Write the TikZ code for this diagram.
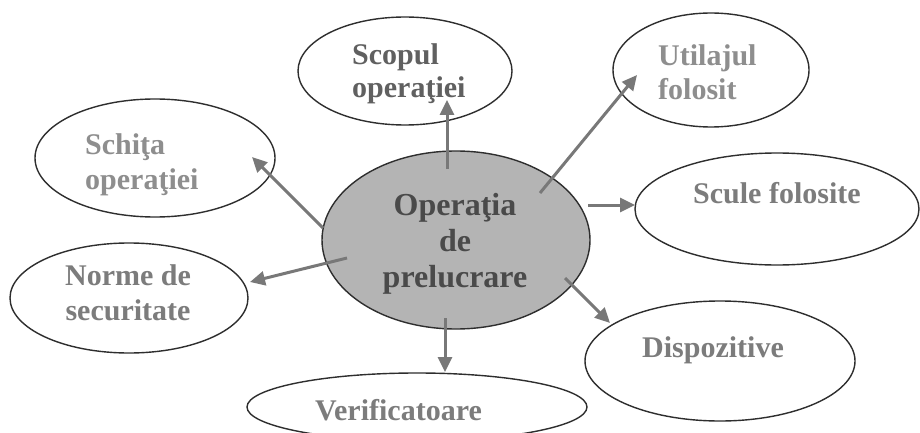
\documentclass[tikz,border=0pt]{standalone}
\usepackage{fontspec}
\setmainfont{Liberation Serif}
\usetikzlibrary{shapes.geometric,arrows.meta}
\definecolor{rim}{HTML}{2E2E2E}
\definecolor{arr}{HTML}{787878}
\definecolor{hubfill}{HTML}{B4B4B4}
\definecolor{txtdark}{HTML}{4A4A4A}
\definecolor{txtmid}{HTML}{606060}
\definecolor{txtgray}{HTML}{7C7C7C}
\definecolor{txtlight}{HTML}{8E8E8E}
\begin{document}
\begin{tikzpicture}[x=1pt,y=-1pt,
  oval/.style={ellipse, draw=rim, line width=1.4pt, inner sep=0pt},
  lbl/.style={font=\fontsize{30}{35}\selectfont\bfseries, inner sep=0pt},
  link/.style={draw=arr, line width=3pt, -{Triangle[length=15pt,width=14pt]}}
]
\useasboundingbox (0,0) rectangle (920,433);
\clip (0,0) rectangle (920,433);
\fill[white] (0,0) rectangle (920,433);

% ellipses
\node[oval, fill=hubfill, minimum width=268pt, minimum height=178pt] (hub) at (456,240) {};
\node[oval, minimum width=214pt, minimum height=108pt] (scopul) at (405,71) {};
\node[oval, minimum width=196pt, minimum height=114pt] (utilaj) at (711,70) {};
\node[oval, minimum width=240pt, minimum height=118pt] (schita) at (155,158) {};
\node[oval, minimum width=284pt, minimum height=112pt] (scule) at (777,209) {};
\node[oval, minimum width=238pt, minimum height=110pt] (norme) at (129,298) {};
\node[oval, minimum width=270pt, minimum height=120pt] (disp) at (720,361) {};
\node[oval, minimum width=340pt, minimum height=68pt] (verif) at (417,407) {};

% labels (multi-line: base anchor = last line's baseline)
\node[lbl, text=txtdark, font=\fontsize{32}{36}\selectfont\bfseries, align=center, anchor=base] (hubtxt) at (455,287) {Operaţia\\de\\prelucrare};
\node[lbl, text=txtmid, font=\fontsize{30}{33}\selectfont\bfseries, align=left, anchor=base west] (scopultxt) at (352,98) {Scopul\\operaţiei};
\node[lbl, text=txtlight, align=left, anchor=base west] (utilajtxt) at (658,100) {Utilajul\\folosit};
\node[lbl, text=txtlight, align=left, anchor=base west] (schitatxt) at (85,189) {Schiţa\\operaţiei};
\node[lbl, text=txtgray, anchor=base west] (sculetxt) at (693,203) {Scule folosite};
\node[lbl, text=txtgray, align=center, anchor=base] (normetxt) at (128,320) {Norme de\\securitate};
\node[lbl, text=txtgray, anchor=base west] (disptxt) at (642,357) {Dispozitive};
\node[lbl, text=txtgray, anchor=base west] (veriftxt) at (315,420) {Verificatoare};

% connector ends
\coordinate (hUp) at (447,169);
\coordinate (tUp) at (447,100);
\coordinate (hUt) at (540,193);
\coordinate (tUt) at (637,75);
\coordinate (hSc) at (323,228);
\coordinate (tSc) at (252,157);
\coordinate (hSf) at (588,205);
\coordinate (tSf) at (635,205);
\coordinate (hNo) at (347,258);
\coordinate (tNo) at (250,282);
\coordinate (hDi) at (565,278);
\coordinate (tDi) at (610,323);
\coordinate (hVe) at (445,318);
\coordinate (tVe) at (445,372);

\draw[link] (hUp) -- (tUp);
\draw[link] (hUt) -- (tUt);
\draw[link] (hSc) -- (tSc);
\draw[link] (hSf) -- (tSf);
\draw[link] (hNo) -- (tNo);
\draw[link] (hDi) -- (tDi);
\draw[link] (hVe) -- (tVe);
\end{tikzpicture}
\end{document}
